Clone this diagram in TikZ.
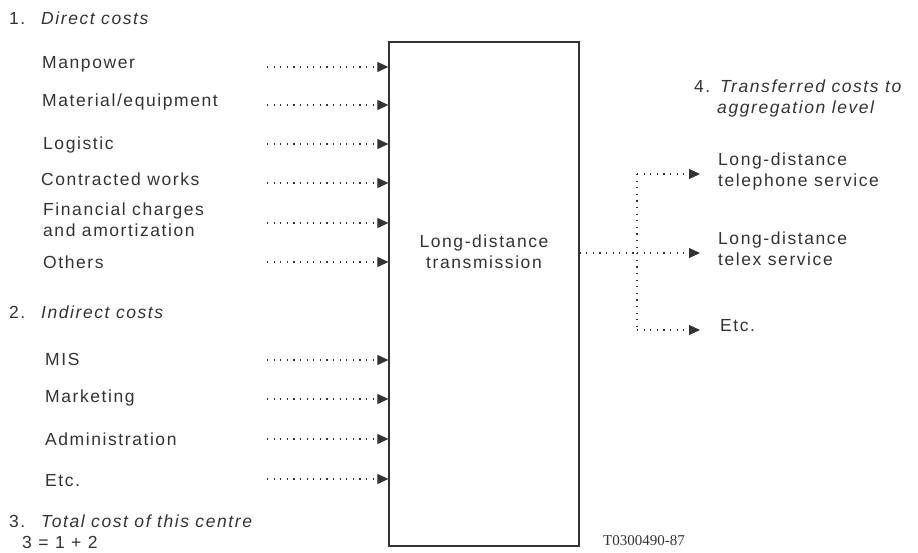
\documentclass[tikz,border=0pt]{standalone}
\usepackage{fontspec}
\setmainfont{Liberation Sans}[LetterSpace=9]
\newfontfamily\codefont{Liberation Serif}
\usetikzlibrary{arrows.meta}
\definecolor{ink}{HTML}{333333}
\begin{document}
\begin{tikzpicture}[x=1pt,y=-1pt,
  every node/.style={text=ink,font=\fontsize{17.5}{21}\selectfont,inner sep=0pt},
  lbl/.style={anchor=west,align=left},
  hdr/.style={anchor=west,align=left},
  feed/.style={draw=ink,line width=1.1pt,dash pattern=on 1.2pt off 5.4pt,-{Triangle[length=11pt,width=10pt,fill=ink]}},
  fork/.style={draw=ink,line width=1.1pt,dash pattern=on 1.2pt off 5.4pt},
  centre/.style={draw=ink,line width=1.3pt,minimum width=190pt,minimum height=504pt}]
\useasboundingbox (0,0) rectangle (918,553);
% central box
\node[centre] (box) at (484,294) {};
\node[align=center] (boxlbl) at (484,252) {Long-distance\\transmission};
% headers
\node[hdr] (h1) at (9,18) {\makebox[32pt][l]{1.}\textit{Direct costs}};
\node[hdr] (h2) at (9,312) {\makebox[32pt][l]{2.}\textit{Indirect costs}};
\node[hdr] (h3) at (9,532) {\makebox[32pt][l]{3.}\textit{Total cost of this centre}\\\hspace*{13pt}3 = 1 + 2};
\node[hdr] (h4) at (694,98) {\makebox[26pt][l]{4.}\textit{Transferred costs to}\\\hspace*{23pt}\textit{aggregation level}};
% input labels
\node[lbl] (l1) at (42,64) {Manpower};
\node[lbl] (l2) at (42,102) {Material/equipment};
\node[lbl] (l3) at (43,145) {Logistic};
\node[lbl] (l4) at (41,179) {Contracted works};
\node[lbl] (l5) at (43,220) {Financial charges\\and amortization};
\node[lbl] (l6) at (43,262) {Others};
\node[lbl] (l7) at (45,359) {MIS};
\node[lbl] (l8) at (45,398) {Marketing};
\node[lbl] (l9) at (45,439) {Administration};
\node[lbl] (l10) at (45,481) {Etc.};
% input start coordinates
\foreach \n/\y in {1/67,2/105,3/144,4/183,5/223,6/262,7/360,8/399,9/439,10/479}{
  \coordinate (s\n) at (267,\y);
  \draw[feed] (s\n) -- (s\n -| box.west);
}
% output side
\coordinate (j) at (637,253);
\coordinate (jt) at (637,174);
\coordinate (jb) at (637,330);
\node[lbl] (o1) at (718,171) {Long-distance\\telephone service};
\node[lbl] (o2) at (718,249) {Long-distance\\telex service};
\node[lbl] (o3) at (720,326) {Etc.};
\coordinate (t1) at (700,174);
\coordinate (t2) at (700,253);
\coordinate (t3) at (700,330);
\draw[fork] (box.east |- j) -- (j);
\draw[fork] (jt) -- (jb);
\draw[feed] (jt) -- (t1);
\draw[feed] (j) -- (t2);
\draw[feed] (jb) -- (t3);
% reference code
\node[anchor=west,font=\codefont\fontsize{15}{17}\selectfont] (code) at (603,541) {T0300490-87};
\end{tikzpicture}
\end{document}
